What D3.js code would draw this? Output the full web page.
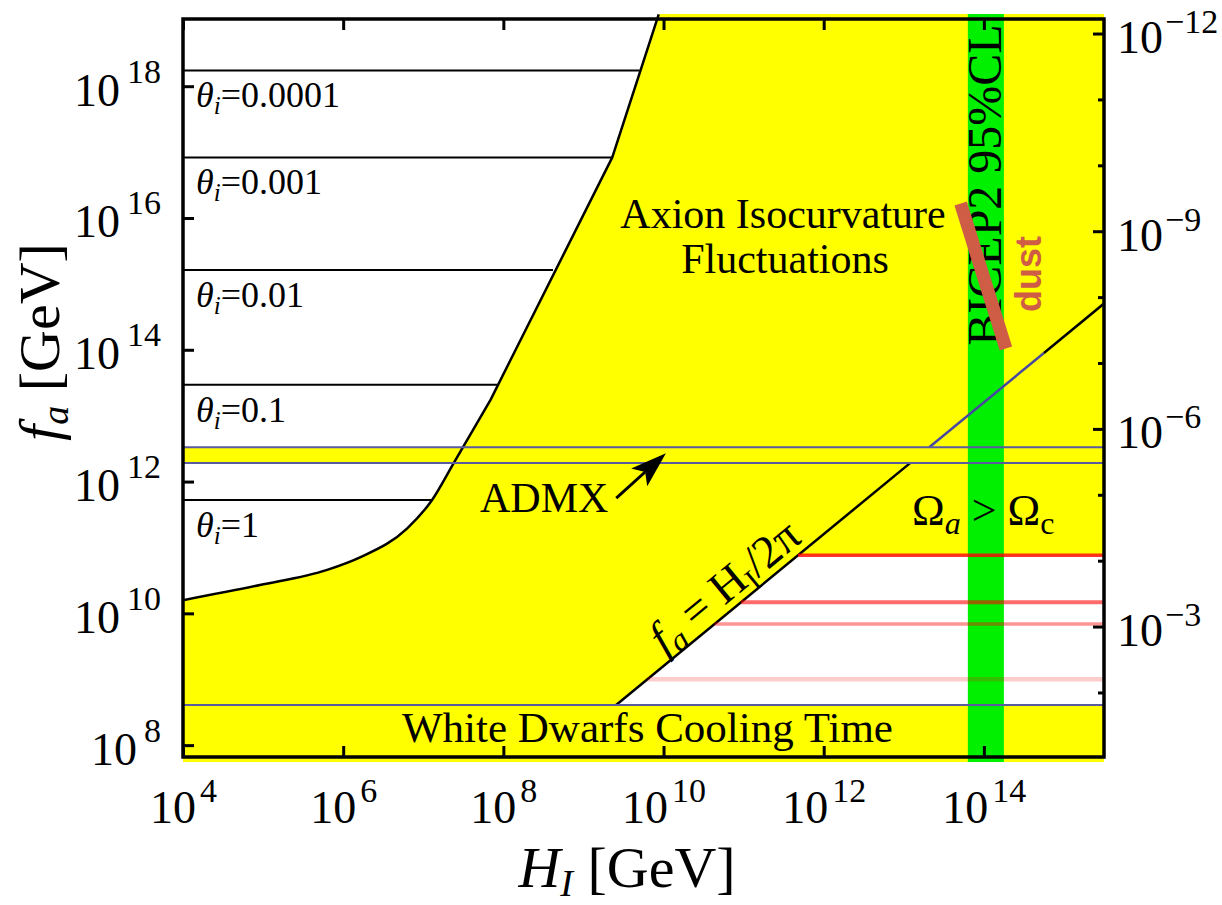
<!DOCTYPE html>
<html>
<head>
<meta charset="utf-8">
<title>Axion isocurvature bounds</title>
<style>
  body { margin: 0; background: #fff; }
  text { font-family: "Liberation Serif", "Times New Roman", serif; fill: #000; }
  .tick line { stroke: #000; stroke-width: 3; }
</style>
</head>
<body>
<svg id="chart" width="1222" height="905"></svg>
<script src="https://cdn.jsdelivr.net/npm/d3@7/dist/d3.min.js"></script>
<script>
// all values are log10 exponents; x = H_I [GeV], y = f_a [GeV]
const xTickExps = [4, 6, 8, 10, 12, 14];
const yTickExps = [8, 10, 12, 14, 16, 18];
// right axis: axion mass m_a [eV]
const massMajorExps = [-12, -9, -6, -3];
const massMinorExps = [-11, -10, -8, -7, -5, -4, -2];
const massCoef = 6.3e6; // m_a = massCoef / f_a

// isocurvature boundary (white allowed region above/left)
// smooth lower part, then straight pieces with a kink
const isoLowLogH  = [4.00, 4.96, 5.80, 6.21, 6.80, 7.11, 7.38, 7.84];
const isoLowLogFa = [10.20, 10.43, 10.66, 10.85, 11.29, 11.72, 12.28, 13.24];
const isoHighLogH  = [7.84, 9.36, 9.94];
const isoHighLogFa = [13.24, 16.92, 19.09];

// theta_i = const lines
const thetaLabels  = ["0.0001", "0.001", "0.01", "0.1", "1"];
const thetaLogFa   = [18.24, 16.92, 15.21, 13.47, 11.72];
const thetaEndLogH = [9.70, 9.36, 8.62, 7.93, 7.11];

const admxLogFa = [12.28, 12.52];
const whiteDwarfLogFa = 8.61;
const bicep2LogH = [13.80, 14.25];
const dustLogH  = [13.71, 14.275];
const dustLogFa = [16.22, 14.02];
const diagBlueEndLogH = 14.75;

// Omega_a > Omega_c lines
const relicLogFa = [10.88, 10.17, 9.84, 9.00];
const relicOpacity = [0.8, 0.58, 0.42, 0.2];
const relicWidths = [3.5, 4, 3.5, 4.5];

const admxArrowLogH  = [9.41, 10.03];
const admxArrowLogFa = [11.75, 12.43];

const p = v => Math.pow(10, v);
const twoPi = 2 * Math.PI;

const pLeft = 183, pRight = 1104, pTop = 19, pBottom = 757;

const svg = d3.select("#chart");

const x = d3.scaleLog().domain([p(4), p(15.5)]).range([pLeft, pRight]);
const y = d3.scaleLog().domain([p(7.82), p(19.02)]).range([pBottom, pTop]);
const yM = d3.scaleLog().domain([massCoef / p(7.82), massCoef / p(19.02)]).range([pBottom, pTop]);

svg.append("defs").append("clipPath").attr("id", "plot-clip")
  .append("rect").attr("x", pLeft).attr("y", pTop - 5).attr("width", pRight - pLeft).attr("height", pBottom - pTop + 10);

const plot = svg.append("g").attr("clip-path", "url(#plot-clip)");

// background: excluded region
plot.append("rect")
  .attr("x", pLeft).attr("y", pTop - 5).attr("width", pRight - pLeft).attr("height", pBottom - pTop + 10)
  .attr("fill", "#ffff00");

// isocurvature boundary path
const isoLow = isoLowLogH.map((h, i) => [p(h), p(isoLowLogFa[i])]);
const isoHigh = isoHighLogH.map((h, i) => [p(h), p(isoHighLogFa[i])]);
const lowD = d3.line().x(d => x(d[0])).y(d => y(d[1])).curve(d3.curveMonotoneX)(isoLow);
const highD = d3.line().x(d => x(d[0])).y(d => y(d[1]))(isoHigh).replace(/^M/, "L");
const isoD = lowD + highD;
const lastIso = isoHigh[isoHigh.length - 1];

// white region above isocurvature boundary
plot.append("path")
  .attr("fill", "#fff")
  .attr("d", isoD + `L${x(lastIso[0])},0L${pLeft},0Z`);

// white region below fa = H/2pi, above white dwarfs
const faWd = p(whiteDwarfLogFa), faTop = p(relicLogFa[0]);
const lowWhite = [[twoPi * faWd, faWd], [twoPi * faTop, faTop], [p(15.6), faTop], [p(15.6), faWd]];
plot.append("path")
  .datum(lowWhite)
  .attr("fill", "#fff")
  .attr("d", d3.line().x(d => x(d[0])).y(d => y(d[1])));

// ADMX band
plot.append("rect")
  .attr("x", pLeft).attr("width", pRight - pLeft)
  .attr("y", y(p(admxLogFa[1]))).attr("height", y(p(admxLogFa[0])) - y(p(admxLogFa[1])))
  .attr("fill", "#ffff00");

// theta lines
plot.selectAll(".theta")
  .data(thetaLogFa)
  .join("line")
  .attr("class", "theta")
  .attr("x1", x(p(4))).attr("x2", (d, i) => x(p(thetaEndLogH[i])))
  .attr("y1", d => y(p(d))).attr("y2", d => y(p(d)))
  .attr("stroke", "#000").attr("stroke-width", 2);

// isocurvature boundary
plot.append("path")
  .attr("fill", "none").attr("stroke", "#000").attr("stroke-width", 2.5)
  .attr("stroke-linejoin", "round")
  .attr("d", isoD);

// BICEP2 band
plot.append("rect")
  .attr("x", x(p(bicep2LogH[0]))).attr("width", x(p(bicep2LogH[1])) - x(p(bicep2LogH[0])))
  .attr("y", pTop - 5).attr("height", pBottom - pTop + 10)
  .attr("fill", "#00f000");

// fa = H/2pi diagonal
const diagSegs = [
  { pts: [[twoPi * faWd, faWd], [twoPi * p(admxLogFa[0]), p(admxLogFa[0])]], color: "#000" },
  { pts: [[twoPi * p(admxLogFa[1]), p(admxLogFa[1])], [p(diagBlueEndLogH), p(diagBlueEndLogH) / twoPi]], color: "#4848a0" },
  { pts: [[p(diagBlueEndLogH), p(diagBlueEndLogH) / twoPi], [p(15.5), p(15.5) / twoPi]], color: "#000" }
];
plot.selectAll(".diag")
  .data(diagSegs)
  .join("path")
  .attr("class", "diag")
  .attr("fill", "none")
  .attr("stroke", d => d.color).attr("stroke-width", 2.5)
  .attr("d", d => d3.line().x(q => x(q[0])).y(q => y(q[1]))(d.pts));

// ADMX and white dwarf limits
plot.selectAll(".hlim")
  .data(admxLogFa.concat([whiteDwarfLogFa]))
  .join("line")
  .attr("class", "hlim")
  .attr("x1", pLeft).attr("x2", pRight)
  .attr("y1", d => y(p(d))).attr("y2", d => y(p(d)))
  .attr("stroke", "#5a5aa0").attr("stroke-width", 2);

// relic density lines
plot.selectAll(".relic")
  .data(relicLogFa)
  .join("line")
  .attr("class", "relic")
  .attr("x1", d => x(twoPi * p(d))).attr("x2", pRight)
  .attr("y1", d => y(p(d))).attr("y2", d => y(p(d)))
  .attr("stroke", "#ff0000")
  .attr("stroke-opacity", (d, i) => relicOpacity[i])
  .attr("stroke-width", (d, i) => relicWidths[i]);

// BICEP2 label (under the dust bar)
plot.append("text").attr("transform", "translate(1001,185) rotate(-90)")
  .attr("text-anchor", "middle").attr("font-size", 48).text("BICEP2 95%CL");

// dust
plot.append("line")
  .attr("x1", x(p(dustLogH[0]))).attr("y1", y(p(dustLogFa[0])))
  .attr("x2", x(p(dustLogH[1]))).attr("y2", y(p(dustLogFa[1])))
  .attr("stroke", "#cf5c44").attr("stroke-width", 13);

// ADMX arrow
const ax0 = x(p(admxArrowLogH[0])), ay0 = y(p(admxArrowLogFa[0]));
const ax1 = x(p(admxArrowLogH[1])), ay1 = y(p(admxArrowLogFa[1]));
const ang = Math.atan2(ay1 - ay0, ax1 - ax0);
const hl = 36, hw = 12, notch = 8;
const ux = Math.cos(ang), uy = Math.sin(ang);
svg.append("line")
  .attr("x1", ax0).attr("y1", ay0)
  .attr("x2", ax1 - ux * (hl - notch)).attr("y2", ay1 - uy * (hl - notch))
  .attr("stroke", "#000").attr("stroke-width", 3);
svg.append("path")
  .attr("d", `M${ax1},${ay1}L${ax1 - ux * hl - uy * hw},${ay1 - uy * hl + ux * hw}` +
    `L${ax1 - ux * (hl - notch)},${ay1 - uy * (hl - notch)}` +
    `L${ax1 - ux * hl + uy * hw},${ay1 - uy * hl - ux * hw}Z`)
  .attr("fill", "#000");

// frame
svg.append("rect")
  .attr("x", pLeft).attr("y", pTop).attr("width", pRight - pLeft).attr("height", pBottom - pTop)
  .attr("fill", "none").attr("stroke", "#000").attr("stroke-width", 3.5);

// axes (ticks inside)
const xTicks = xTickExps.map(p), yTicks = yTickExps.map(p);
const noLabel = () => "";
const gB = svg.append("g").attr("transform", `translate(0,${pBottom})`)
  .call(d3.axisBottom(x).tickValues(xTicks).tickSize(-11).tickFormat(noLabel));
svg.append("g").attr("transform", `translate(0,${pTop})`)
  .call(d3.axisTop(x).tickValues(xTicks).tickSize(-11).tickFormat(noLabel));
const gL = svg.append("g").attr("transform", `translate(${pLeft},0)`)
  .call(d3.axisLeft(y).tickValues(yTicks).tickSize(-11).tickFormat(noLabel));
const gR = svg.append("g").attr("transform", `translate(${pRight},0)`)
  .call(d3.axisRight(yM).tickValues(massMajorExps.map(p)).tickSize(-11).tickFormat(noLabel));
svg.append("g").attr("transform", `translate(${pRight},0)`)
  .call(d3.axisRight(yM).tickValues(massMinorExps.map(p)).tickSize(-6).tickFormat(noLabel));
svg.selectAll(".domain").remove();

function powLabel(sel, exp, supDx, supDy) {
  sel.append("tspan").attr("font-size", 46).text("10");
  sel.append("tspan").attr("font-size", 34).attr("dx", supDx).attr("dy", supDy)
    .text(String(exp).replace("-", "\u2212"));
}

gB.selectAll(".tick").append("text")
  .attr("x", 0).attr("y", 66).attr("text-anchor", "middle")
  .each(function(d) { powLabel(d3.select(this), Math.round(Math.log10(d)), 4, -21); });

gL.selectAll(".tick").append("text")
  .attr("x", -22).attr("y", 19).attr("text-anchor", "end")
  .each(function(d) { powLabel(d3.select(this), Math.round(Math.log10(d)), 7, -23); });

gR.selectAll(".tick").append("text")
  .attr("x", 13).attr("y", 19).attr("text-anchor", "start")
  .each(function(d) { powLabel(d3.select(this), Math.round(Math.log10(d)), 2, -20); });

// axis titles
const xt = svg.append("text").attr("x", 627).attr("y", 887).attr("text-anchor", "middle").attr("font-size", 58);
xt.append("tspan").attr("font-style", "italic").text("H");
xt.append("tspan").attr("font-style", "italic").attr("font-size", 38).attr("dy", 9).text("I");
xt.append("tspan").attr("dy", -9).text(" [GeV]");

const yt = svg.append("text").attr("transform", "translate(59,342) rotate(-90)").attr("text-anchor", "middle").attr("font-size", 58);
yt.append("tspan").attr("font-style", "italic").text("f");
yt.append("tspan").attr("font-style", "italic").attr("font-size", 38).attr("dy", 9).text("a");
yt.append("tspan").attr("dy", -9).text(" [GeV]");

// theta labels
thetaLabels.forEach((lab, i) => {
  const t = svg.append("text").attr("x", 196).attr("y", y(p(thetaLogFa[i])) + 37).attr("font-size", 36);
  t.append("tspan").attr("font-style", "italic").text("\u03b8");
  t.append("tspan").attr("font-style", "italic").attr("font-size", 25).attr("dy", 7).text("i");
  t.append("tspan").attr("dy", -7).text("=" + lab);
});

// region labels
svg.append("text").attr("x", 783).attr("y", 228).attr("text-anchor", "middle").attr("font-size", 42).text("Axion Isocurvature");
svg.append("text").attr("x", 785).attr("y", 273).attr("text-anchor", "middle").attr("font-size", 42).text("Fluctuations");
svg.append("text").attr("x", 480).attr("y", 512).attr("font-size", 42).text("ADMX");
svg.append("text").attr("x", 402).attr("y", 742).attr("font-size", 43).text("White Dwarfs Cooling Time");

const om = svg.append("text").attr("x", 912).attr("y", 525).attr("font-size", 44);
om.append("tspan").text("\u03a9");
om.append("tspan").attr("font-style", "italic").attr("font-size", 32).attr("dy", 9).text("a");
om.append("tspan").attr("dy", -9).text(" > \u03a9");
om.append("tspan").attr("font-size", 32).attr("dy", 9).text("c");

svg.append("text").attr("transform", "translate(1041,274) rotate(-90)")
  .attr("text-anchor", "middle").attr("font-size", 36)
  .style("font-family", "'Liberation Sans', Arial, sans-serif").style("font-weight", "bold")
  .style("fill", "#cf5c44").text("dust");

// fa = H_I/2pi label along the diagonal
const dA = [twoPi * faWd, faWd], dB = [twoPi * p(admxLogFa[0]), p(admxLogFa[0])];
const diagAng = Math.atan2(y(dB[1]) - y(dA[1]), x(dB[0]) - x(dA[0])) * 180 / Math.PI;
const fl = svg.append("text").attr("transform", `translate(734,598) rotate(${diagAng})`)
  .attr("text-anchor", "middle").attr("font-size", 46);
fl.append("tspan").attr("font-style", "italic").text("f");
fl.append("tspan").attr("font-style", "italic").attr("font-size", 32).attr("dy", 8).text("a");
fl.append("tspan").attr("dy", -8).text(" = H");
fl.append("tspan").attr("font-size", 30).attr("dy", 8).text("I");
fl.append("tspan").attr("dy", -8).text("/2\u03c0");
</script>
</body>
</html>
